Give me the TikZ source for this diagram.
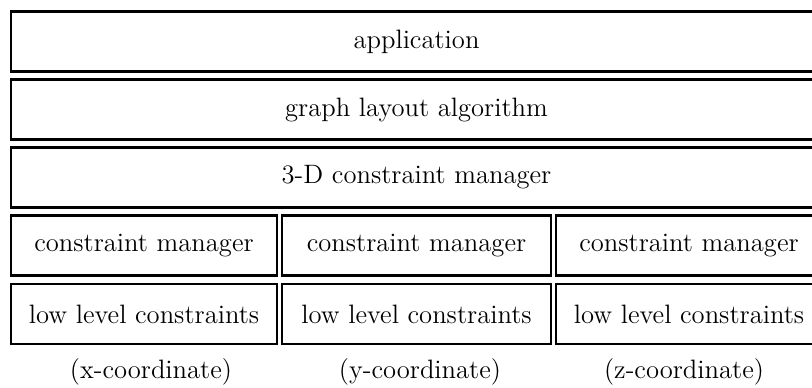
\documentclass[tikz,border=0pt]{standalone}
\begin{document}
\begin{tikzpicture}[x=0.5pt,y=-0.5pt,
  layerbox/.style={draw=black, line width=1.2pt, rectangle, inner sep=0pt, outer sep=0pt,
    minimum height=30pt, font=\fontsize{13.3}{16}\selectfont},
  wide/.style={layerbox, minimum width=405.5pt},
  colA/.style={layerbox, minimum width=133pt},
  colB/.style={layerbox, minimum width=134.5pt},
  lbl/.style={inner sep=0pt, font=\fontsize{13.3}{16}\selectfont}]
\useasboundingbox (0,0) rectangle (812,387);
\begin{scope}
\clip (0,0) rectangle (812,387);
\node[wide] (app) at (416.5,41.5) {application};
\node[wide] (gla) at (416.5,109.5) {graph layout algorithm};
\node[wide] (cm3) at (416.5,177.5) {3-D constraint manager};
\node[colA] (cmx) at (144,245.5) {constraint manager};
\node[colB] (cmy) at (416.5,245.5) {constraint manager};
\node[colA] (cmz) at (689,245.5) {constraint manager};
\node[colA] (llx) at (144,314) {low level constraints};
\node[colB] (lly) at (416.5,314) {low level constraints};
\node[colA] (llz) at (689,314) {low level constraints};
\end{scope}
\node[lbl] (lx) at (151,372) {(x-coordinate)};
\node[lbl] (ly) at (420,372) {(y-coordinate)};
\node[lbl] (lz) at (684,372) {(z-coordinate)};
\end{tikzpicture}
\end{document}
